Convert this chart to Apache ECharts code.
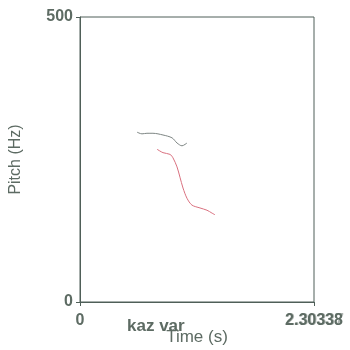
<!DOCTYPE html>
<html><head><meta charset="utf-8">
<script src="https://cdn.jsdelivr.net/npm/echarts@6/dist/echarts.min.js"></script>
<style>html,body{margin:0;padding:0;background:#fff}#c{width:350px;height:350px}</style>
</head><body><div id="c"></div>
<script>
const grayTime = [0.561,0.610,0.659,0.718,0.817,0.906,0.955,1.004,1.053];
const grayPitch = [298,295,296,296,293,288,279,274,279];
const redTime = [0.758,0.817,0.886,0.915,0.955,0.984,1.014,1.053,1.102,1.181,1.250,1.299,1.329];
const redPitch = [268,262,259,253,237,219,200,182,170,165,161,156,153];
const xMin = 0, xMax = 2.30338;
const yMin = 0, yMax = 500;
const xLabels = ["0", "2.30338"];
const yLabels = ["0", "500"];
const annotation = "kaz var";
const extraLabel = "2.30337";

const txt = '#5d6b63', frame = '#4f5f58';
const chart = echarts.init(document.getElementById('c'));
chart.setOption({
  animation:false,
  grid:{left:80,right:36,top:17,bottom:48,show:true,borderColor:frame,borderWidth:1,
    containLabel:false,outerBoundsMode:'none'},
  xAxis:{type:'value',min:xMin,max:xMax,interval:xMax,
    name:'Time (s)',nameLocation:'middle',nameGap:27,nameMoveOverlap:false,
    nameTextStyle:{color:txt,fontSize:17,fontFamily:'Liberation Sans'},
    axisLine:{show:true,lineStyle:{color:frame}},
    axisTick:{show:true,length:4,lineStyle:{color:frame}},
    splitLine:{show:false},
    axisLabel:{color:txt,fontSize:16,fontFamily:'Liberation Sans',fontWeight:'bold',margin:11,
      formatter:(v)=> v===0?xLabels[0]:xLabels[1]}},
  yAxis:{type:'value',min:yMin,max:yMax,interval:yMax,
    name:'Pitch (Hz)',nameLocation:'middle',nameGap:56,nameMoveOverlap:false,
    nameTextStyle:{color:txt,fontSize:16,fontFamily:'Liberation Sans'},
    axisLine:{show:true,lineStyle:{color:frame}},
    axisTick:{show:true,length:4,lineStyle:{color:frame}},
    splitLine:{show:false},
    axisLabel:{color:txt,fontSize:16,fontFamily:'Liberation Sans',fontWeight:'bold',margin:7,
      formatter:(v)=> v===0?yLabels[0]:yLabels[1]}},
  graphic:[
    {type:'text',x:127,y:318,style:{text:annotation,fill:txt,font:'bold 17px "Liberation Sans"'}},
    {type:'text',x:315,y:313,style:{text:extraLabel,fill:txt,font:'bold 16px "Liberation Sans"',
      textAlign:'center',textVerticalAlign:'top',opacity:0.5}}
  ],
  series:[
    {type:'line',data:grayTime.map((t,i)=>[t,grayPitch[i]]),showSymbol:false,smooth:0.3,
      lineStyle:{color:'#7d8583',width:1}},
    {type:'line',data:redTime.map((t,i)=>[t,redPitch[i]]),showSymbol:false,smooth:0.3,
      lineStyle:{color:'#d9707f',width:1}}
  ]
});
</script></body></html>
